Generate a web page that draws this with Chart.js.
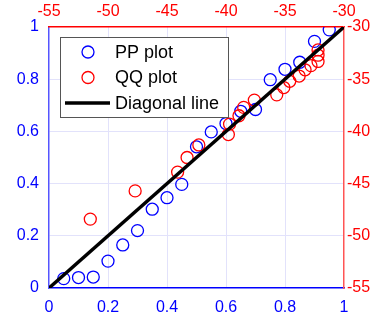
<!DOCTYPE html>
<html>
<head>
<meta charset="utf-8">
<script src="https://cdn.jsdelivr.net/npm/chart.js@4"></script>
<style>
  html, body { margin: 0; padding: 0; background: #fff; }
  canvas { display: block; }
</style>
</head>
<body>
<canvas id="chart" width="382" height="326"></canvas>
<script>
// PP plot (bottom/left axes, 0..1)
const ppX = [0.05, 0.10, 0.15, 0.20, 0.25, 0.30, 0.35, 0.40, 0.45, 0.50,
             0.55, 0.60, 0.65, 0.70, 0.75, 0.80, 0.85, 0.90, 0.95];
const ppY = [0.036, 0.040, 0.042, 0.103, 0.165, 0.220, 0.302, 0.346, 0.397, 0.541,
             0.598, 0.630, 0.677, 0.684, 0.798, 0.838, 0.865, 0.945, 0.989];

// QQ plot (top/right axes, -55..-30)
const qqX = [-51.5, -47.7, -44.1, -43.3, -42.3, -39.8, -39.7, -38.9, -38.5, -37.6,
             -35.7, -35.1, -34.6, -33.8, -33.3, -32.8, -32.2, -32.2, -32.2];
const qqY = [-48.4, -45.7, -43.9, -42.5, -41.3, -40.3, -39.3, -38.5, -37.7, -37.0,
             -36.5, -35.8, -35.2, -34.7, -34.1, -33.7, -33.3, -32.7, -32.2];

// diagonal reference line
const diagX = [0, 1];
const diagY = [0, 1];

// tick labels
const unitTicks = [0, 0.2, 0.4, 0.6, 0.8, 1];
const dbTicks = [-55, -50, -45, -40, -35, -30];

const BLUE = '#0000ff';
const RED = '#ff0000';
const GRID = '#e2e2fb';
const FONT = "'Liberation Sans', Arial, Helvetica, sans-serif";

const toPoints = (xs, ys) => xs.map((x, i) => ({ x, y: ys[i] }));
const fixTicks = (vals) => (scale) => { scale.ticks = vals.map((v) => ({ value: v })); };
const plain = (v) => String(v);
const edgeless = (ctx) => {
  const v = ctx.tick ? ctx.tick.value : null;
  return (v === 0 || v === 1) ? 'transparent' : GRID;
};

// legend drawn inside the plot, like the matlab box
const boxLegend = {
  id: 'boxLegend',
  afterDraw(chart) {
    const c = chart.ctx;
    const left = 60, top = 37, w = 168, h = 80;
    c.save();
    c.fillStyle = '#fff';
    c.fillRect(left, top, w, h);
    c.strokeStyle = '#555';
    c.lineWidth = 1;
    c.strokeRect(left + 0.5, top + 0.5, w, h);
    c.font = '18px ' + FONT;
    c.textBaseline = 'middle';
    c.fillStyle = '#000';
    chart.data.datasets.forEach((ds, i) => {
      const y = top + 15 + i * 25.5;
      c.strokeStyle = ds.borderColor;
      c.lineWidth = ds.borderWidth;
      c.beginPath();
      if (ds.showLine) {
        c.moveTo(left + 5, y);
        c.lineTo(left + 50, y);
      } else {
        c.arc(left + 28, y, ds.pointRadius, 0, Math.PI * 2);
      }
      c.stroke();
      c.fillText(ds.label, left + 55, y + 1);
    });
    c.restore();
  },
};

new Chart(document.getElementById('chart'), {
  type: 'scatter',
  data: {
    datasets: [
      {
        label: 'PP plot',
        data: toPoints(ppX, ppY),
        xAxisID: 'x', yAxisID: 'y',
        borderColor: BLUE, backgroundColor: 'transparent',
        pointRadius: 6, borderWidth: 1.3, order: 2,
      },
      {
        label: 'QQ plot',
        data: toPoints(qqX, qqY),
        xAxisID: 'x2', yAxisID: 'y2',
        borderColor: RED, backgroundColor: 'transparent',
        pointRadius: 6, borderWidth: 1.3, order: 1,
      },
      {
        label: 'Diagonal line',
        data: toPoints(diagX, diagY),
        xAxisID: 'x', yAxisID: 'y',
        showLine: true, borderColor: '#000', borderWidth: 3.5,
        pointRadius: 0, order: 0,
      },
    ],
  },
  options: {
    responsive: false,
    animation: false,
    devicePixelRatio: 1,
    layout: { padding: 0 },
    plugins: { legend: { display: false }, tooltip: { enabled: false } },
    scales: {
      x: {
        type: 'linear', position: 'bottom', min: 0, max: 1,
        afterBuildTicks: fixTicks(unitTicks),
        afterFit: (s) => { s.height = 38; },
        grid: { color: edgeless, drawTicks: false },
        border: { color: BLUE, width: 1.5 },
        ticks: { color: BLUE, padding: 10, callback: plain, font: { family: FONT, size: 16 } },
      },
      y: {
        type: 'linear', position: 'left', min: 0, max: 1,
        afterBuildTicks: fixTicks(unitTicks),
        afterFit: (s) => { s.width = 49; },
        grid: { color: edgeless, drawTicks: false },
        border: { color: '#5555ff', width: 1.5 },
        ticks: { color: BLUE, padding: 10, callback: plain, font: { family: FONT, size: 16 } },
      },
      x2: {
        type: 'linear', position: 'top', min: -55, max: -30,
        afterBuildTicks: fixTicks(dbTicks),
        afterFit: (s) => { s.height = 27; },
        grid: { display: false, drawTicks: false },
        border: { color: RED, width: 1.5 },
        ticks: { color: RED, padding: 6, callback: plain, font: { family: FONT, size: 16 } },
      },
      y2: {
        type: 'linear', position: 'right', min: -55, max: -30,
        afterBuildTicks: fixTicks(dbTicks),
        afterFit: (s) => { s.width = 38; },
        grid: { display: false, drawTicks: false },
        border: { color: '#ff5555', width: 1.5 },
        ticks: { color: RED, padding: 3, callback: plain, font: { family: FONT, size: 16 } },
      },
    },
  },
  plugins: [boxLegend],
});
</script>
</body>
</html>
